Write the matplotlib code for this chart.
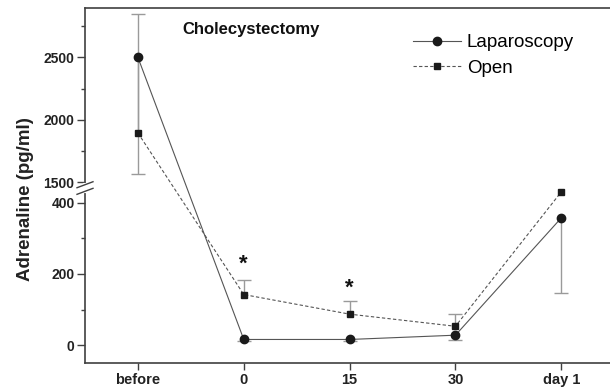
import numpy as np
import matplotlib
matplotlib.use('Agg')
import matplotlib.pyplot as plt
from matplotlib.ticker import FixedLocator

plt.rcParams['font.family'] = ['Liberation Sans', 'DejaVu Sans']

# ====================== DATI ======================
times = ['before', '0', '15', '30', 'day 1']
lap = np.array([2500, 16, 16, 28, 357])         # Laparoscopy (pg/ml)
lap_err_low = np.array([934, 5, 5, 14, 211])    # barre solo verso il basso
open_ = np.array([1894, 142, 87, 53, 430])      # Open (pg/ml)
open_err_up = np.array([952, 42, 36, 35, 0])    # barre solo verso l'alto
stars = [(1, 227), (2, 160)]                    # asterischi di significativita

major_y = [0, 200, 400, 1500, 2000, 2500]
minor_y = [100, 300, 1750, 2250, 2750]

# asse y spezzato: scala lineare a tratti
brk_lo, brk_hi = 440, 1454
k_lo, k_hi = 0.3575, 0.125
xp = [-1000, brk_lo, brk_hi, 10000]
fp = [-1000 * k_lo, brk_lo * k_lo, brk_lo * k_lo + 0.5,
      brk_lo * k_lo + 0.5 + (10000 - brk_hi) * k_hi]


def fwd(y):
    return np.interp(y, xp, fp)


def inv(y):
    return np.interp(y, fp, xp)


# ====================== PLOT ======================
fig = plt.figure(figsize=(6.10, 3.92), dpi=100)
ax = fig.add_axes([85 / 610, 29 / 392, 525 / 610, 355.5 / 392])

x = np.arange(len(times))
line_col = '#555555'
mk_col = '#1a1a1a'
err_col = '#9a9a9a'

# barre d'errore (monolaterali) + cappucci
zeros = np.zeros(len(x))
ax.errorbar(x, lap, yerr=[lap_err_low, zeros], fmt='none',
            ecolor=err_col, elinewidth=1.0, capsize=0, zorder=1)
ax.errorbar(x, open_, yerr=[zeros, open_err_up], fmt='none',
            ecolor=err_col, elinewidth=1.0, capsize=0, zorder=1)
ax.plot(x, lap - lap_err_low, '_', color=err_col, markersize=10, mew=1.0, zorder=1)
has_up = open_err_up > 0
ax.plot(x[has_up], (open_ + open_err_up)[has_up], '_', color=err_col,
        markersize=10, mew=1.0, zorder=1)

ax.plot(x, lap, color=line_col, linewidth=0.8, zorder=2)
ax.plot(x, open_, color=line_col, linewidth=0.8, linestyle=(0, (3, 2)), zorder=2)
ax.plot(x, lap, 'o', color=mk_col, markersize=6, zorder=3)
ax.plot(x, open_, 's', color=mk_col, markersize=5, zorder=3)

# handle per la legenda
h1, = ax.plot([], [], color=line_col, linewidth=0.8, marker='o',
              markerfacecolor=mk_col, markeredgecolor=mk_col, markersize=6)
h2, = ax.plot([], [], color=line_col, linewidth=0.8, linestyle=(0, (3, 2)),
              marker='s', markerfacecolor=mk_col, markeredgecolor=mk_col, markersize=5)
ax.legend([h1, h2], ['Laparoscopy', 'Open'], loc='upper left',
          bbox_to_anchor=(0.624, 0.9256), frameon=False, fontsize=13.5,
          handlelength=2.6, handletextpad=0.3, labelspacing=0.45,
          borderpad=0, borderaxespad=0)

for sx, sy in stars:
    ax.text(sx, sy, '*', fontsize=16, fontweight='bold', ha='center',
            va='center', color='#111111')

ax.text(0.186, 0.939, 'Cholecystectomy', transform=ax.transAxes,
        fontsize=12, fontweight='bold', ha='left', va='center', color='#111111')

ax.set_yscale('function', functions=(fwd, inv))
ax.set_ylim(-50, 2900)
ax.set_xlim(-0.5, 4.46)
ax.yaxis.set_major_locator(FixedLocator(major_y))
ax.yaxis.set_minor_locator(FixedLocator(minor_y))
ax.yaxis.set_minor_formatter(plt.NullFormatter())
ax.set_yticklabels([str(v) for v in major_y])
ax.set_xticks(x)
ax.set_xticklabels(times)

for lab in ax.get_xticklabels() + ax.get_yticklabels():
    lab.set_fontweight('bold')
ax.tick_params(axis='x', labelsize=10.5, length=5, width=1.0, color='#404040',
               pad=2, labelcolor='#222222')
ax.tick_params(axis='y', which='major', labelsize=10, length=5.5, width=1.0,
               color='#404040', pad=2, labelcolor='#222222')
ax.tick_params(axis='y', which='minor', length=3, width=1.0, color='#404040')

for s in ['left', 'top', 'bottom']:
    ax.spines[s].set_color('#404040')
    ax.spines[s].set_linewidth(1.2)
ax.spines['right'].set_visible(False)

ax.set_ylabel('Adrenaline (pg/ml)', fontsize=13.5, fontweight='bold', color='#222222')
ax.yaxis.set_label_coords(-0.097, 0.461)

# segno di interruzione sull'asse y
yb = ax.transAxes.inverted().transform(ax.transData.transform((0, (brk_lo + brk_hi) / 2)))[1]
dx, dy, off = 8 / 525, 3 / 355.5, 3.3 / 355.5
ax.plot([0, 0], [yb - off, yb + off], color='white', linewidth=3,
        transform=ax.transAxes, clip_on=False, zorder=5)
for o in (off, -off):
    ax.plot([-dx, dx], [yb + o - dy, yb + o + dy], color='#404040', linewidth=1.0,
            transform=ax.transAxes, clip_on=False, zorder=6)

plt.savefig('out.png', dpi=100)
